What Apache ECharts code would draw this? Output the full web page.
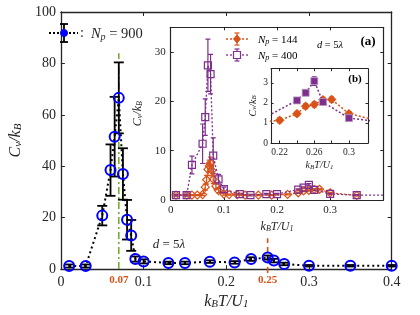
<!DOCTYPE html>
<html><head><meta charset="utf-8">
<script src="https://cdn.jsdelivr.net/npm/echarts@6/dist/echarts.min.js"></script>
<style>html,body{margin:0;padding:0;background:#fff}#c{width:420px;height:315px}</style>
</head><body><div id="c"></div>
<script>
// ---------- data ----------
const mainT   = [0.01,0.03,0.05,0.06,0.065,0.07,0.075,0.08,0.085,0.09,0.1,0.13,0.15,0.18,0.21,0.23,0.25,0.2575,0.27,0.3,0.35,0.4];
const mainC   = [1.2,1.2,20.8,38.5,51.5,66.6,37.0,19.2,13.1,3.9,3.0,2.4,2.4,2.9,2.6,3.9,4.5,3.3,2.0,1.3,1.3,1.3];
const mainErr = [0.6,0.6,3.8,10,15.5,13.8,10,7.7,6,1,0.8,0.5,0.5,0.5,0.5,0.7,0.8,0.7,0.5,0.3,0.3,0.3];

const t144 = [0.01,0.03,0.04,0.05,0.06,0.065,0.0675,0.07,0.0725,0.075,0.0775,0.08,0.085,0.09,0.1,0.11,0.125,0.14,0.165,0.19,0.22,0.24,0.25,0.26,0.27,0.28,0.3,0.35];
const c144 = [1.0,1.0,1.0,1.0,1.1,2.6,4.1,6.2,6.9,7.5,6.0,4.2,2.8,1.9,1.2,1.1,1.1,1.0,1.0,1.0,1.13,1.46,1.83,1.92,2.15,2.17,1.46,0.95];
const e144 = [0.1,0.1,0.1,0.1,0.2,0.6,0.9,1.2,1.2,1.2,1.1,0.9,0.6,0.4,0.2,0.1,0.1,0.1,0.1,0.1,0.12,0.12,0.12,0.12,0.12,0.12,0.1,0.1];

const t400 = [0.01,0.03,0.04,0.06,0.065,0.07,0.075,0.08,0.09,0.1,0.13,0.15,0.18,0.2,0.24,0.25,0.26,0.27,0.3,0.35,0.4];
const c400 = [1.0,1.0,7.1,11.4,16.8,27.3,25.5,9.0,4.2,2.2,1.2,1.0,1.2,1.2,2.12,2.5,3.08,2.04,1.24,0.97,0.97];
const e400 = [0.2,0.2,1.8,4.0,3.7,5.3,4.0,3.6,1.0,0.4,0.15,0.15,0.15,0.15,0.12,0.12,0.22,0.12,0.1,0.1,0.1];

const mainXLabels = [0,0.07,0.1,0.2,0.25,0.3,0.4];
const mainXTicks  = [0,0.1,0.2,0.3,0.4];
const mainYTicks  = [0,20,40,60,80,100];
const critT       = [0.07,0.25];
const greenSpan   = [0,84];
const redSpan     = [-1.5,12];
const aXTicks = [0,0.1,0.2,0.3];
const aYTicks = [0,10,20,30];
const bXLabels = [0.22,0.26,0.3];
const bXTicks  = [0.22,0.24,0.26,0.28,0.3];
const bYTicks  = [0,1,2,3];

// ---------- styling ----------
const TXT='#262626', ORA='#d95319', PUR='#7e2f8e', GRN='#77ac30';
const SERIF='"Liberation Serif","Times New Roman",serif';
function richMath(fs){
  return {
    i:{fontFamily:SERIF,fontStyle:'italic',fontSize:fs,color:TXT,lineHeight:fs*1.25,verticalAlign:'bottom'},
    u:{fontFamily:SERIF,fontSize:fs,color:TXT,lineHeight:fs*1.25,verticalAlign:'bottom'},
    s:{fontFamily:SERIF,fontStyle:'italic',fontSize:Math.round(fs*0.7),color:TXT,lineHeight:fs*0.95,verticalAlign:'bottom'},
    b:{fontFamily:SERIF,fontWeight:'bold',fontSize:fs,color:TXT}
  };
}
const CV='{i|C}{s|v}{i|/k}{s|B}';
const KT='{i|k}{s|B}{i|T/U}{s|1}';

function errRender(color, capW, lw){
  return function(params, api){
    const x=api.value(0), lo=api.value(1), hi=api.value(2);
    const p1=api.coord([x,lo]), p2=api.coord([x,hi]);
    const st={stroke:color,lineWidth:lw};
    return {type:'group',children:[
      {type:'line',shape:{x1:p1[0],y1:p1[1],x2:p2[0],y2:p2[1]},style:st},
      {type:'line',shape:{x1:p1[0]-capW,y1:p1[1],x2:p1[0]+capW,y2:p1[1]},style:st},
      {type:'line',shape:{x1:p2[0]-capW,y1:p2[1],x2:p2[0]+capW,y2:p2[1]},style:st}
    ]};
  };
}
function errData(T,C,E,lo,hi){
  const out=[];
  T.forEach((t,i)=>{ if(t>=lo && t<=hi) out.push([t,C[i]-E[i],C[i]+E[i]]); });
  return out;
}
function ptData(T,C,lo,hi){
  const out=[];
  T.forEach((t,i)=>{ if(t>=lo && t<=hi) out.push([t,C[i]]); });
  return out;
}

function axis(opts){
  const o = {
    type:'value', gridIndex:opts.grid, position:opts.pos, min:opts.min, max:opts.max, z:opts.z||0,
    axisLine:{show:true,onZero:false,lineStyle:{color:TXT,width:opts.lw||1.3}},
    axisTick:{show:true,inside:true,length:opts.tl||4,customValues:opts.ticks,lineStyle:{color:TXT,width:1}},
    splitLine:{show:false},
    axisLabel:{show:!!opts.labels,customValues:opts.labels||opts.ticks,color:TXT,fontFamily:SERIF,fontSize:opts.fs||14,margin:opts.margin||6,
      formatter:opts.formatter, rich:opts.rich},
  };
  if(opts.name){
    o.name=opts.name; o.nameLocation='middle'; o.nameGap=opts.nameGap;
    o.nameTextStyle={rich:richMath(opts.nfs)};
    if(opts.rot!==undefined) o.nameRotate=opts.rot;
  }
  return o;
}

const chart = echarts.init(document.getElementById('c'));

const xAxes = [
  axis({grid:0,pos:'bottom',min:0,max:0.4,ticks:mainXTicks,labels:mainXLabels,fs:14,margin:6,
    formatter:function(v){ return critT.some(c=>Math.abs(c-v)<1e-9) ? '{r|'+v+'}' : String(v); },
    rich:{r:{color:ORA,fontWeight:'bold',fontSize:11,fontFamily:SERIF}},
    name:KT,nameGap:17,nfs:16}),
  axis({grid:0,pos:'top',min:0,max:0.4,ticks:mainXTicks}),
  axis({grid:1,pos:'bottom',min:0,max:0.4,ticks:aXTicks,labels:aXTicks,fs:11,margin:5,z:11,tl:3,lw:1.2,name:KT,nameGap:18,nfs:12}),
  axis({grid:1,pos:'top',min:0,max:0.4,ticks:aXTicks,z:11,tl:3,lw:1.2}),
  axis({grid:2,pos:'bottom',min:0.21,max:0.322,ticks:bXTicks,labels:bXLabels,fs:9.5,margin:4,z:21,tl:2.5,lw:1.1,name:KT,nameGap:15,nfs:10}),
  axis({grid:2,pos:'top',min:0.21,max:0.322,ticks:bXTicks,z:21,tl:2.5,lw:1.1})
];
const yAxes = [
  axis({grid:0,pos:'left',min:0,max:100,ticks:mainYTicks,labels:mainYTicks,fs:14,margin:5,name:CV,nameGap:20,nfs:16,rot:90}),
  axis({grid:0,pos:'right',min:0,max:100,ticks:mainYTicks}),
  axis({grid:1,pos:'left',min:0,max:35,ticks:aYTicks,labels:aYTicks,fs:11,margin:5,z:11,tl:3,lw:1.2,name:CV,nameGap:17,nfs:12,rot:90}),
  axis({grid:1,pos:'right',min:0,max:35,ticks:aYTicks,z:11,tl:3,lw:1.2}),
  axis({grid:2,pos:'left',min:0,max:3.7,ticks:bYTicks,labels:bYTicks,fs:9.5,margin:3,z:21,tl:2.5,lw:1.1,name:CV,nameGap:13,nfs:10,rot:90}),
  axis({grid:2,pos:'right',min:0,max:3.7,ticks:bYTicks,z:21,tl:2.5,lw:1.1})
];

const series = [
  {type:'line',xAxisIndex:0,yAxisIndex:0,data:[[critT[0],greenSpan[0]],[critT[0],greenSpan[1]]],symbol:'none',
    lineStyle:{color:GRN,width:1.6,type:[7,3,2,3]},z:2,silent:true},
  {type:'line',xAxisIndex:0,yAxisIndex:0,data:[[critT[1],redSpan[0]],[critT[1],redSpan[1]]],symbol:'none',clip:false,
    lineStyle:{color:ORA,width:1.6,type:[6,4]},z:2,silent:true},
  {type:'custom',xAxisIndex:0,yAxisIndex:0,renderItem:errRender('#000',5,1.8),data:errData(mainT,mainC,mainErr,0,1),z:3,silent:true},
  {type:'line',xAxisIndex:0,yAxisIndex:0,data:ptData(mainT,mainC,0,1),symbol:'circle',symbolSize:10,
    itemStyle:{color:'rgba(0,0,0,0)',borderColor:'#0000ff',borderWidth:2},
    lineStyle:{color:'#000',width:2,type:[2,3]},z:4,silent:true},

  {type:'custom',xAxisIndex:2,yAxisIndex:2,renderItem:errRender(ORA,2.5,1.2),data:errData(t144,c144,e144,0,0.4),z:12,silent:true,clip:true},
  {type:'line',xAxisIndex:2,yAxisIndex:2,data:ptData(t144,c144,0,0.4),symbol:'diamond',symbolSize:8,
    itemStyle:{color:'rgba(255,255,255,0)',borderColor:ORA,borderWidth:1.2},
    lineStyle:{color:ORA,width:1.3,type:[2,2]},z:13,silent:true},
  {type:'custom',xAxisIndex:2,yAxisIndex:2,renderItem:errRender(PUR,2.5,1.2),data:errData(t400,c400,e400,0,0.39),z:12,silent:true,clip:true},
  {type:'line',xAxisIndex:2,yAxisIndex:2,data:ptData(t400,c400,0,0.4),symbol:'rect',
    symbolSize:function(v,p){ return v[0]>=0.399 ? 0 : 7; },
    itemStyle:{color:'rgba(255,255,255,0)',borderColor:PUR,borderWidth:1.2},
    lineStyle:{color:PUR,width:1.3,type:[2,2]},z:14,silent:true},

  {type:'custom',xAxisIndex:4,yAxisIndex:4,renderItem:errRender(ORA,2.5,1.1),data:errData(t144,c144,e144,0.215,0.32),z:22,silent:true,clip:true},
  {type:'line',xAxisIndex:4,yAxisIndex:4,data:ptData(t144,c144,0.18,0.36),symbol:'diamond',symbolSize:9,
    itemStyle:{color:ORA,borderColor:ORA,borderWidth:0.5},
    lineStyle:{color:ORA,width:1.5,type:[2,2]},z:23,silent:true},
  {type:'custom',xAxisIndex:4,yAxisIndex:4,renderItem:errRender(PUR,2.5,1.1),data:errData(t400,c400,e400,0.215,0.32),z:22,silent:true,clip:true},
  {type:'line',xAxisIndex:4,yAxisIndex:4,data:ptData(t400,c400,0.18,0.36),symbol:'rect',symbolSize:7,
    itemStyle:{color:PUR,borderColor:'#b59ac0',borderWidth:0.8},
    lineStyle:{color:PUR,width:1.5,type:[2,2]},z:24,silent:true}
];

const rm13 = richMath(13), rm10 = richMath(10.5), rm14 = richMath(14.5), rm11=richMath(11);
const graphic = [
  {type:'line',shape:{x1:49,y1:33,x2:78,y2:33},style:{stroke:'#000',lineWidth:2,lineDash:[2,2]},z:5},
  {type:'line',shape:{x1:64,y1:24,x2:64,y2:42},style:{stroke:'#000',lineWidth:1.8},z:5},
  {type:'line',shape:{x1:60,y1:24,x2:68,y2:24},style:{stroke:'#000',lineWidth:1.8},z:5},
  {type:'line',shape:{x1:60,y1:42,x2:68,y2:42},style:{stroke:'#000',lineWidth:1.8},z:5},
  {type:'circle',shape:{cx:64,cy:33,r:3.5},style:{fill:'#0000ff',stroke:'#0000ff'},z:6},
  {type:'text',x:80,y:33,style:{text:':  {i|N}{s|p}{u| = 900}',rich:rm14,fill:TXT,font:'14px '+SERIF,align:'left',verticalAlign:'middle'},z:6},
  {type:'text',x:169,y:243,style:{text:'{i|d}{u| = 5}{i|λ}',rich:rm13,fill:TXT,align:'center',verticalAlign:'middle'},z:6},
  {type:'line',shape:{x1:226,y1:39,x2:248,y2:39},style:{stroke:ORA,lineWidth:1.3,lineDash:[2,2]},z:30},
  {type:'line',shape:{x1:237,y1:33,x2:237,y2:45},style:{stroke:ORA,lineWidth:1.2},z:30},
  {type:'line',shape:{x1:234.5,y1:33,x2:239.5,y2:33},style:{stroke:ORA,lineWidth:1.2},z:30},
  {type:'line',shape:{x1:234.5,y1:45,x2:239.5,y2:45},style:{stroke:ORA,lineWidth:1.2},z:30},
  {type:'polygon',shape:{points:[[237,35],[240.5,39],[237,43],[233.5,39]]},style:{fill:ORA,stroke:ORA},z:31},
  {type:'text',x:258,y:39,style:{text:'{i|N}{s|p}{u| = 144}',rich:rm11,align:'left',verticalAlign:'middle'},z:31},
  {type:'line',shape:{x1:226,y1:55,x2:248,y2:55},style:{stroke:PUR,lineWidth:1.3,lineDash:[2,2]},z:30},
  {type:'line',shape:{x1:237,y1:49,x2:237,y2:61},style:{stroke:PUR,lineWidth:1.2},z:30},
  {type:'line',shape:{x1:234.5,y1:49,x2:239.5,y2:49},style:{stroke:PUR,lineWidth:1.2},z:30},
  {type:'line',shape:{x1:234.5,y1:61,x2:239.5,y2:61},style:{stroke:PUR,lineWidth:1.2},z:30},
  {type:'rect',shape:{x:233.5,y:51.5,width:7,height:7},style:{fill:'#fff',stroke:PUR,lineWidth:1.2},z:31},
  {type:'text',x:258,y:55,style:{text:'{i|N}{s|p}{u| = 400}',rich:rm11,align:'left',verticalAlign:'middle'},z:31},
  {type:'text',x:330,y:44,style:{text:'{i|d}{u| = 5}{i|λ}',rich:rm10,align:'center',verticalAlign:'middle'},z:31},
  {type:'text',x:368,y:42,style:{text:'(a)',fill:'#000',font:'bold 13px '+SERIF,align:'center',verticalAlign:'middle'},z:31},
  {type:'text',x:355,y:79,style:{text:'(b)',fill:'#000',font:'bold 11px '+SERIF,align:'center',verticalAlign:'middle'},z:31}
];

chart.setOption({
  animation:false,
  backgroundColor:'#fff',
  grid:[
    {left:39,right:28.3,top:12,bottom:41.5,show:false,z:0},
    {left:170.7,right:36.7,top:27.3,bottom:115,show:true,backgroundColor:'#fff',borderWidth:0,z:10},
    {left:271,right:52,top:68.7,bottom:172,show:true,backgroundColor:'#fff',borderWidth:0,z:20}
  ],
  xAxis:xAxes, yAxis:yAxes, series:series, graphic:graphic
});
</script></body></html>
